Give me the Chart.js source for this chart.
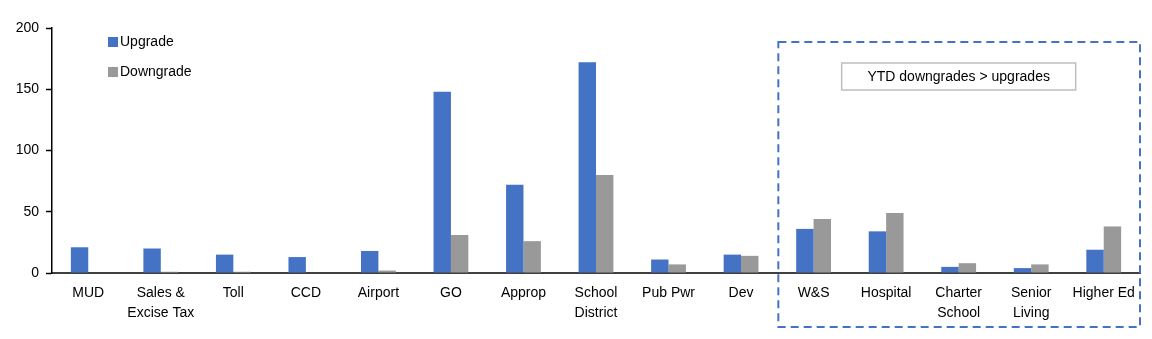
<!DOCTYPE html>
<html>
<head>
<meta charset="utf-8">
<script src="https://cdn.jsdelivr.net/npm/chart.js@4.4.1/dist/chart.umd.min.js"></script>
<style>
  html, body { margin: 0; padding: 0; background: #ffffff; }
  #wrap { width: 1152px; height: 339px; position: relative; }
</style>
</head>
<body>
<div id="wrap"><canvas id="c" width="1152" height="339"></canvas></div>
<script>
// Rating actions by sector
const sectors = [
  'MUD', ['Sales &', 'Excise Tax'], 'Toll', 'CCD', 'Airport', 'GO', 'Approp',
  ['School', 'District'], 'Pub Pwr', 'Dev', 'W&S', 'Hospital',
  ['Charter', 'School'], ['Senior', 'Living'], 'Higher Ed'
];
const upgrades   = [21, 20, 15, 13, 18, 148, 72, 172, 11, 15, 36, 34, 5, 4, 19];
const downgrades = [0, 1, 1, 0, 2, 31, 26, 80, 7, 14, 44, 49, 8, 7, 38];
const yTicks = [0, 50, 100, 150, 200];
const highlightFrom = 10; // first sector inside the dashed box
const boxNote = 'YTD downgrades > upgrades';

const FONT = 'Liberation Sans, Arial, sans-serif';
const BLUE = '#4472C4';
const GREY = '#999999';

// Legend stacked in the upper-left of the plot
const sideLegend = {
  id: 'sideLegend',
  afterDraw(chart) {
    const ctx = chart.ctx;
    ctx.save();
    ctx.font = '14px ' + FONT;
    ctx.textBaseline = 'middle';
    chart.data.datasets.forEach((ds, i) => {
      const y = 42 + i * 30;
      ctx.fillStyle = ds.backgroundColor;
      ctx.fillRect(108, y - 5, 10, 10);
      ctx.fillStyle = '#000';
      ctx.fillText(ds.label, 120, y);
    });
    ctx.restore();
  }
};

// Dashed frame around the sectors with more downgrades, plus its note
const highlightBox = {
  id: 'highlightBox',
  afterDraw(chart) {
    const ctx = chart.ctx;
    const x = chart.scales.x;
    const area = chart.chartArea;
    const left = (x.getPixelForValue(highlightFrom - 1) + x.getPixelForValue(highlightFrom)) / 2;
    const right = area.right;
    const top = 42, bottom = 327;
    ctx.save();
    ctx.strokeStyle = BLUE;
    ctx.lineWidth = 2;
    ctx.setLineDash([8, 5]);
    ctx.strokeRect(left + 1, top, right - left - 1, bottom - top);
    ctx.setLineDash([]);
    // note box
    const cx = (left + right) / 2;
    const bw = 234, bh = 27, by = 63;
    ctx.fillStyle = '#fff';
    ctx.fillRect(cx - bw / 2, by, bw, bh);
    ctx.strokeStyle = '#bfbfbf';
    ctx.lineWidth = 1.5;
    ctx.strokeRect(cx - bw / 2, by, bw, bh);
    ctx.fillStyle = '#000';
    ctx.font = '14px ' + FONT;
    ctx.textAlign = 'center';
    ctx.textBaseline = 'middle';
    ctx.fillText(boxNote, cx, by + bh / 2 + 1);
    ctx.restore();
  }
};

new Chart(document.getElementById('c'), {
  type: 'bar',
  data: {
    labels: sectors,
    datasets: [
      { label: 'Upgrade', data: upgrades, backgroundColor: BLUE },
      { label: 'Downgrade', data: downgrades, backgroundColor: GREY }
    ]
  },
  options: {
    responsive: false,
    animation: false,
    devicePixelRatio: 1,
    layout: { padding: { top: 28, right: 12, left: 0, bottom: 0 } },
    datasets: { bar: { categoryPercentage: 0.48, barPercentage: 1.0 } },
    plugins: { legend: { display: false }, tooltip: { enabled: false } },
    scales: {
      x: {
        grid: { display: false, drawTicks: false },
        border: { display: true, color: '#404040', width: 2 },
        ticks: {
          color: '#000', font: { family: FONT, size: 14, lineHeight: 1.43 },
          maxRotation: 0, autoSkip: false, padding: 10
        },
        afterFit(s) { s.height = 66; }
      },
      y: {
        min: 0, max: 200,
        afterBuildTicks(s) { s.ticks = yTicks.map(v => ({ value: v })); },
        grid: { drawOnChartArea: false, drawTicks: true, tickLength: 6, color: '#000', tickWidth: 1.5 },
        border: { display: true, color: '#000', width: 1.5 },
        ticks: { color: '#000', font: { family: FONT, size: 14 }, padding: 7 },
        afterFit(s) { s.width = 52; }
      }
    }
  },
  plugins: [sideLegend, highlightBox]
});
</script>
</body>
</html>
